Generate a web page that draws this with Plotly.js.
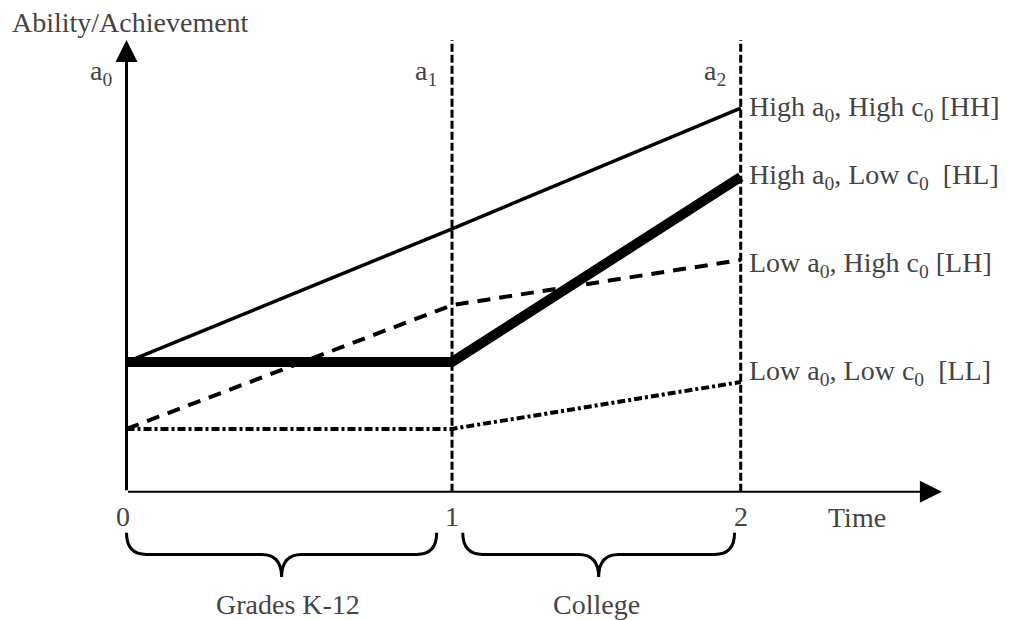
<!DOCTYPE html>
<html><head><meta charset="utf-8">
<script src="https://cdn.plot.ly/plotly-3.0.1.min.js"></script>
<style>html,body{margin:0;padding:0;background:#fff;}#chart{width:1016px;height:620px;}</style>
</head><body><div id="chart"></div>
<script>
// ---- data ----
const timeLabels = ['0', '1', '2'];
const timePos = [0, 1.06, 2];           // drawn positions of the time marks
const milestoneLabels = ['a<sub>0</sub>', 'a<sub>1</sub>', 'a<sub>2</sub>'];
const seriesLabels = [
  'High a<sub>0</sub>, High c<sub>0</sub> [HH]',
  'High a<sub>0</sub>, Low c<sub>0</sub>\u00a0 [HL]',
  'Low a<sub>0</sub>, High c<sub>0</sub> [LH]',
  'Low a<sub>0</sub>, Low c<sub>0</sub>\u00a0 [LL]'
];
const hh = [2.87, 5.82, 8.49];
const hl = [2.87, 2.87, 6.97];
const lh = [1.39, 4.13, 5.13];
const ll = [1.39, 1.39, 2.43];
const periodLabels = ['Grades K-12', 'College'];
const yAxisTitle = 'Ability/Achievement';
const xAxisTitle = 'Time';
const yTop = 10;
const xEnd = 2.655;

// ---- styling ----
const FONT = 'Liberation Serif, Times New Roman, serif';
const TXT = '#444444';
const FS = 28;

const series = [hh, hl, lh, ll];
const lineStyles = [
  {color: '#000', width: 3.5, dash: 'solid'},
  {color: '#000', width: 10, dash: 'solid'},
  {color: '#000', width: 4, dash: '13px,9px'},
  {color: '#000', width: 4, dash: '8px,3px,3px,3px'}
];

const traces = [];
// vertical milestone lines at a1, a2
[1, 2].forEach(i => {
  traces.push({x: [timePos[i], timePos[i]], y: [0, yTop], mode: 'lines',
    line: {color: '#000', width: 3, dash: '8px,3px'}, hoverinfo: 'skip', showlegend: false});
});
series.forEach((s, k) => {
  traces.push({x: timePos, y: s, mode: 'lines', line: lineStyles[k], showlegend: false, hoverinfo: 'skip'});
});

const ann = [];
// axes as arrows
ann.push({x: xEnd, y: 0, ax: timePos[0], ay: 0, axref: 'x', ayref: 'y', xref: 'x', yref: 'y',
  text: '', showarrow: true, arrowhead: 2, arrowwidth: 2, arrowsize: 2.2, arrowcolor: '#000', standoff: 0});
ann.push({x: timePos[0], y: yTop, ax: timePos[0], ay: 0, axref: 'x', ayref: 'y', xref: 'x', yref: 'y',
  text: '', showarrow: true, arrowhead: 2, arrowwidth: 3, arrowsize: 1.47, arrowcolor: '#000', standoff: 0});

const font = {family: FONT, size: FS, color: TXT};
// tick labels
timeLabels.forEach((t, i) => {
  ann.push({x: timePos[i], y: 0, text: t, showarrow: false, yshift: -25, xshift: i === 0 ? -4 : 0, font});
});
ann.push({x: timePos[2], y: 0, text: xAxisTitle, showarrow: false, xanchor: 'center', xshift: 116, yshift: -26, font});
ann.push({x: timePos[0], y: yTop, text: yAxisTitle, showarrow: false, xanchor: 'left', xshift: -117, yshift: 18, font});
// milestone labels
milestoneLabels.forEach((t, i) => {
  ann.push({x: timePos[i], y: yTop, text: t, showarrow: false, xanchor: 'center', xshift: -26, yshift: -32, font});
});
// series end labels
const labelShift = [0, 0, -4, 9];
series.forEach((s, k) => {
  ann.push({x: timePos[2], y: s[s.length - 1], text: seriesLabels[k], showarrow: false, xanchor: 'left',
    xshift: 6, yshift: labelShift[k], font});
});

// braces under each period
const yBTop = -0.91, yBH = -1.39, yBTip = -1.89, r = 0.065;
const bracePairs = [[timePos[0], timePos[1] - 0.05], [timePos[1] + 0.035, timePos[2] - 0.02]];
const shapes = bracePairs.map(([a, b]) => {
  const m = (a + b) / 2;
  const path = `M${a},${yBTop} Q${a},${yBH} ${a + r},${yBH} L${m - r},${yBH} Q${m},${yBH} ${m},${yBTip} ` +
               `Q${m},${yBH} ${m + r},${yBH} L${b - r},${yBH} Q${b},${yBH} ${b},${yBTop}`;
  return {type: 'path', path, xref: 'x', yref: 'y', line: {color: '#000', width: 3}};
});
bracePairs.forEach(([a, b], i) => {
  ann.push({x: (a + b) / 2, y: -2.5, text: periodLabels[i], showarrow: false, xshift: i === 0 ? 6 : -2, font});
});

const layout = {
  width: 1016, height: 620,
  margin: {l: 0, r: 0, t: 0, b: 0},
  paper_bgcolor: '#fff', plot_bgcolor: '#fff',
  xaxis: {range: [-0.4119, 2.8964], visible: false, fixedrange: true},
  yaxis: {range: [-2.840, 10.886], visible: false, fixedrange: true},
  showlegend: false,
  annotations: ann,
  shapes: shapes,
  hovermode: false
};
Plotly.newPlot('chart', traces, layout, {staticPlot: true, displayModeBar: false});
</script>
</body></html>
